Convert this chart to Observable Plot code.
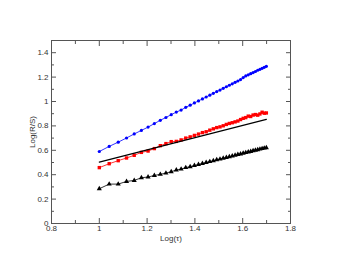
<!DOCTYPE html>
<html><head><meta charset="utf-8">
<script src="https://cdn.jsdelivr.net/npm/d3@7"></script>
<script src="https://cdn.jsdelivr.net/npm/@observablehq/plot@0.6"></script>
<style>body{margin:0;background:#fff}</style>
</head><body><div id="chart"></div>
<script>
// Log(tau) for tau = 10 ... 50
const logTau = [1.0000,1.0414,1.0792,1.1139,1.1461,1.1761,1.2041,1.2304,1.2553,1.2788,
  1.3010,1.3222,1.3424,1.3617,1.3802,1.3979,1.4150,1.4314,1.4472,1.4624,
  1.4771,1.4914,1.5051,1.5185,1.5315,1.5441,1.5563,1.5682,1.5798,1.5911,
  1.6021,1.6128,1.6232,1.6335,1.6435,1.6532,1.6628,1.6721,1.6812,1.6902,1.6990];
const blueRS = [0.590,0.632,0.667,0.701,0.734,0.763,0.790,0.819,0.846,0.869,
  0.892,0.913,0.930,0.952,0.970,0.988,1.005,1.021,1.037,1.052,
  1.067,1.081,1.094,1.108,1.121,1.133,1.145,1.157,1.168,1.180,
  1.196,1.210,1.219,1.228,1.237,1.246,1.256,1.264,1.272,1.280,1.288];
const redRS = [0.458,0.490,0.515,0.537,0.559,0.583,0.594,0.614,0.638,0.655,
  0.671,0.673,0.685,0.700,0.710,0.722,0.733,0.745,0.752,0.765,
  0.776,0.786,0.792,0.801,0.812,0.820,0.826,0.833,0.840,0.852,
  0.862,0.868,0.880,0.877,0.889,0.893,0.888,0.898,0.912,0.904,0.906];
const blackRS = [0.285,0.323,0.323,0.345,0.353,0.375,0.381,0.394,0.403,0.413,
  0.425,0.438,0.446,0.458,0.466,0.475,0.484,0.492,0.500,0.507,
  0.514,0.522,0.528,0.535,0.541,0.547,0.553,0.559,0.565,0.570,
  0.576,0.581,0.586,0.591,0.596,0.601,0.605,0.610,0.614,0.618,0.621];
const fitX = [1.0, 1.699];
const fitY = [0.503, 0.853];
const xMajor = [0.8, 1.0, 1.2, 1.4, 1.6, 1.8];
const xMinor = [0.9, 1.1, 1.3, 1.5, 1.7];
const yMajor = [0, 0.2, 0.4, 0.6, 0.8, 1.0, 1.2, 1.4];
const yMinor = [0.1, 0.3, 0.5, 0.7, 0.9, 1.1, 1.3];
const xTitle = "Log(τ)";
const yTitle = "Log(R/S)";

const blue = logTau.map((x, i) => ({x, y: blueRS[i]}));
const red = logTau.map((x, i) => ({x, y: redRS[i]}));
const black = logTau.map((x, i) => ({x, y: blackRS[i]}));
const fit = fitX.map((x, i) => ({x, y: fitY[i]}));
const fmt = d3.format("~g");
const axisColor = "#555";
const blank = () => "";

const chart = Plot.plot({
  width: 340, height: 263,
  marginLeft: 51, marginRight: 50, marginTop: 40, marginBottom: 40,
  style: {fontFamily: "'Liberation Sans', Arial, sans-serif", fontSize: "8px", color: "#333", background: "#fff"},
  x: {domain: [0.8, 1.8]},
  y: {domain: [0, 1.5]},
  marks: [
    Plot.frame({stroke: axisColor}),
    // tick labels
    Plot.axisX(xMajor, {anchor: "bottom", tickSize: 0, tickPadding: 2, tickFormat: fmt, label: null}),
    Plot.axisY(yMajor, {anchor: "left", tickSize: 0, tickPadding: 3, tickFormat: fmt, label: null}),
    // axis titles
    Plot.text([xTitle], {text: d => d, frameAnchor: "bottom", textAnchor: "middle", lineAnchor: "middle", dy: 15, fill: "#333"}),
    Plot.text([yTitle], {text: d => d, frameAnchor: "left", textAnchor: "middle", lineAnchor: "middle", dx: -19, rotate: -90, fill: "#333"}),
    // inward ticks
    Plot.axisX(xMajor, {anchor: "bottom", tickSize: -5, tickFormat: blank, label: null, stroke: axisColor}),
    Plot.axisX(xMinor, {anchor: "bottom", tickSize: -3, tickFormat: blank, label: null, stroke: axisColor}),
    Plot.axisX(xMajor, {anchor: "top", tickSize: -5, tickFormat: blank, label: null, stroke: axisColor}),
    Plot.axisX(xMinor, {anchor: "top", tickSize: -3, tickFormat: blank, label: null, stroke: axisColor}),
    Plot.axisY(yMajor, {anchor: "left", tickSize: -5, tickFormat: blank, label: null, stroke: axisColor}),
    Plot.axisY(yMinor, {anchor: "left", tickSize: -3, tickFormat: blank, label: null, stroke: axisColor}),
    Plot.axisY(yMajor, {anchor: "right", tickSize: -5, tickFormat: blank, label: null, stroke: axisColor}),
    Plot.axisY(yMinor, {anchor: "right", tickSize: -3, tickFormat: blank, label: null, stroke: axisColor}),
    // series
    Plot.line(blue, {x: "x", y: "y", stroke: "#0000ff", strokeWidth: 0.8}),
    Plot.dot(blue, {x: "x", y: "y", fill: "#0000ff", r: 1.6, symbol: "circle"}),
    Plot.line(red, {x: "x", y: "y", stroke: "#ff0000", strokeWidth: 0.8}),
    Plot.dot(red, {x: "x", y: "y", fill: "#ff0000", r: 1.9, symbol: "square"}),
    Plot.line(black, {x: "x", y: "y", stroke: "#000", strokeWidth: 0.8}),
    Plot.dot(black, {x: "x", y: "y", fill: "#000", r: 1.9, symbol: "triangle"}),
    Plot.line(fit, {x: "x", y: "y", stroke: "#000", strokeWidth: 1.2})
  ]
});
document.getElementById("chart").appendChild(chart);
</script>
</body></html>
